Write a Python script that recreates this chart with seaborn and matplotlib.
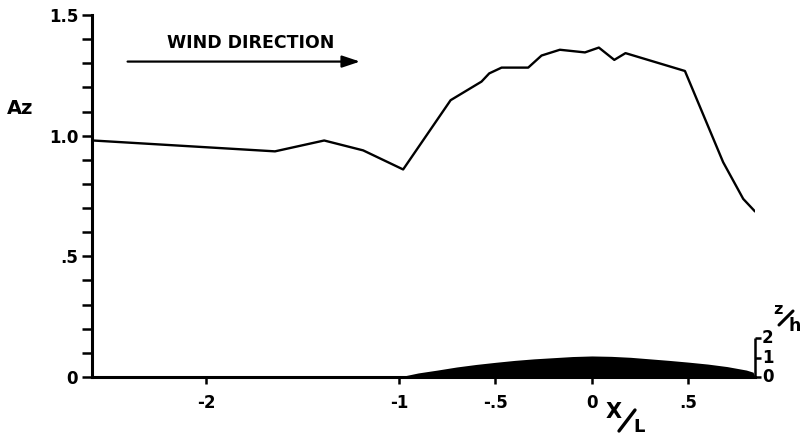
import numpy as np
import pandas as pd
import matplotlib
matplotlib.use("Agg")
import matplotlib.pyplot as plt
from matplotlib.lines import Line2D
from matplotlib.ticker import MultipleLocator, FixedLocator
import seaborn as sns

# Amplification factor Az along the transect (x/L)
x_over_L = [-2.585, -1.642, -1.387, -1.185, -0.978, -0.732, -0.572, -0.532,
            -0.468, -0.330, -0.261, -0.166, -0.036, 0.036, 0.116, 0.174,
            0.482, 0.680, 0.784, 0.845]
az = [0.980, 0.935, 0.980, 0.939, 0.860, 1.147, 1.224, 1.258,
      1.282, 1.282, 1.332, 1.356, 1.345, 1.365, 1.314, 1.342,
      1.268, 0.890, 0.738, 0.686]

# Hill profile (height in z/h)
hill_x = [-1.0, -0.9, -0.8, -0.7, -0.6, -0.5, -0.4, -0.3, -0.2, -0.1, 0.0,
          0.1, 0.2, 0.3, 0.4, 0.5, 0.6, 0.7, 0.8, 0.835, 0.845]
hill_zh = [0.0, 0.21, 0.36, 0.52, 0.65, 0.76, 0.86, 0.94, 1.00, 1.06, 1.09,
           1.07, 1.02, 0.94, 0.86, 0.77, 0.67, 0.54, 0.36, 0.25, 0.0]

x_ticks = [-2, -1, -0.5, 0, 0.5]
x_tick_labels = ["-2", "-1", "-.5", "0", ".5"]
y_ticks = [0, 0.5, 1.0, 1.5]
y_tick_labels = ["0", ".5", "1.0", "1.5"]
zh_ticks = [0, 1, 2]

ZH_SCALE = 0.08  # Az-axis units per unit of z/h

sns.set_theme(style="ticks")
plt.rcParams["font.family"] = ["DejaVu Sans"]
plt.rcParams["font.weight"] = "bold"

W, H = 801, 438
fig = plt.figure(figsize=(W / 100, H / 100), dpi=100)
fig.patch.set_facecolor("white")


def fp(px, py):
    """Pixel position -> figure fraction."""
    return px / W, 1 - py / H


x0, y1 = fp(92, 377)
x1, y0 = fp(755, 15)
ax = fig.add_axes([x0, y1, x1 - x0, y0 - y1])
ax.set_facecolor("white")

df = pd.DataFrame({"x": x_over_L, "Az": az})
sns.lineplot(data=df, x="x", y="Az", ax=ax, color="black", linewidth=1.7,
             sort=False, estimator=None)

hx = np.array(hill_x)
hz = np.array(hill_zh) * ZH_SCALE
ax.fill_between(hx, 0, hz, color="black", linewidth=0, zorder=3)

ax.set_xlim(-2.59, 0.845)
ax.set_ylim(0, 1.5)
ax.set_xlabel("")
ax.set_ylabel("")

for s in ["top", "right"]:
    ax.spines[s].set_visible(False)
for s in ["left", "bottom"]:
    ax.spines[s].set_linewidth(2.2)
    ax.spines[s].set_color("black")
    ax.spines[s].set_zorder(4)

ax.xaxis.set_major_locator(FixedLocator(x_ticks))
ax.set_xticklabels(x_tick_labels)
ax.yaxis.set_major_locator(FixedLocator(y_ticks))
ax.set_yticklabels(y_tick_labels)
ax.yaxis.set_minor_locator(MultipleLocator(0.1))
ax.tick_params(axis="x", direction="out", length=5, width=1.8, pad=7,
               labelsize=12, colors="black")
ax.tick_params(axis="y", which="both", direction="out", length=7, width=1.8,
               pad=3, labelsize=12, colors="black")
for lab in ax.get_xticklabels() + ax.get_yticklabels():
    lab.set_fontweight("bold")

# Wind direction arrow with caption
ax.annotate("", xy=(-1.187, 1.307), xytext=(-2.42, 1.307),
            arrowprops=dict(arrowstyle="-|>,head_length=0.9,head_width=0.3",
                            color="black", lw=1.6))
ax.text(-1.767, 1.383, "WIND DIRECTION", ha="center", va="center",
        fontsize=12.5, fontweight="bold", color="black")

# Axis titles
fig.text(*fp(20, 108), "Az", ha="center", va="center", fontsize=14,
         fontweight="bold", color="black")
fig.text(*fp(614, 412), "X", ha="center", va="center", fontsize=15,
         fontweight="bold", color="black")
fig.text(*fp(639, 427), "L", ha="center", va="center", fontsize=13,
         fontweight="bold", color="black")
sx0, sy0 = fp(619, 431)
sx1, sy1 = fp(635, 410)
fig.add_artist(Line2D([sx0, sx1], [sy0, sy1], color="black", lw=2.4))

# z/h scale bar beside the hill
zb = [t * ZH_SCALE for t in zh_ticks]
ax.plot([0.845, 0.845], [zb[0], zb[-1]], color="black", lw=1.8,
        clip_on=False, solid_capstyle="butt")
for t, z in zip(zh_ticks, zb):
    ax.plot([0.845, 0.875], [z, z], color="black", lw=1.8, clip_on=False,
            solid_capstyle="butt")
    ax.text(0.91, z, str(t), ha="center", va="center", fontsize=12,
            fontweight="bold", color="black", clip_on=False)
fig.text(*fp(778, 310), "z", ha="center", va="center", fontsize=11.5,
         fontweight="bold", color="black")
fig.text(*fp(795, 326), "h", ha="center", va="center", fontsize=12.5,
         fontweight="bold", color="black")
zx0, zy0 = fp(779, 325)
zx1, zy1 = fp(793, 311)
fig.add_artist(Line2D([zx0, zx1], [zy0, zy1], color="black", lw=2.2))

fig.savefig("out.png", dpi=100, facecolor="white")
